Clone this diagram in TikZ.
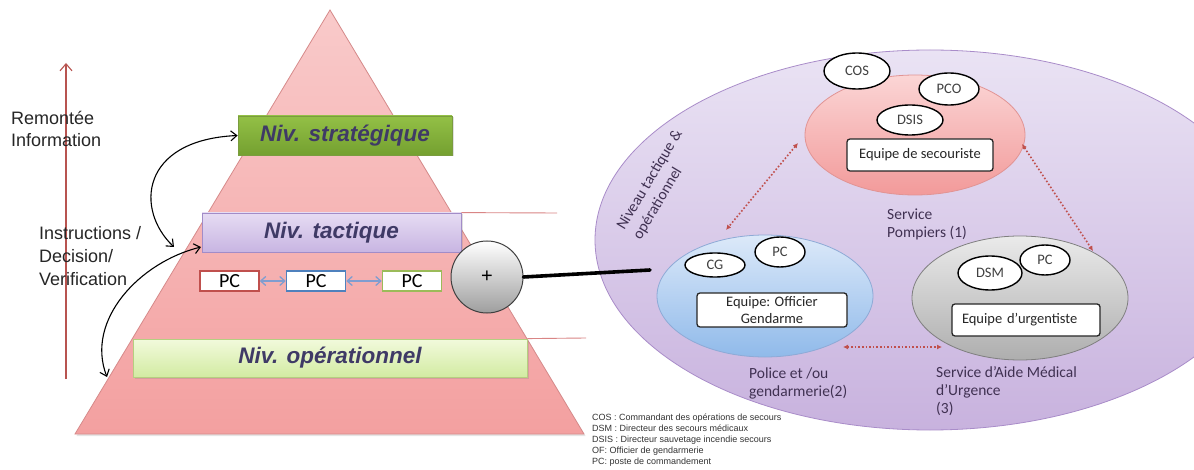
\documentclass[tikz,border=0pt]{standalone}
\usepackage{fontspec}
\setmainfont{Liberation Sans}
\newfontfamily\calfont{Carlito}
\usetikzlibrary{shapes.geometric,arrows.meta,shadows}
\definecolor{pyrtop}{HTML}{F9CACA}
\definecolor{pyrbot}{HTML}{F3A0A0}
\definecolor{pyredge}{HTML}{D68A8A}
\definecolor{strtop}{HTML}{93C046}
\definecolor{strbot}{HTML}{74A030}
\definecolor{stredge}{HTML}{7A9C3E}
\definecolor{tactop}{HTML}{E6DCF3}
\definecolor{tacbot}{HTML}{C8B5E2}
\definecolor{tacedge}{HTML}{A28CC8}
\definecolor{optop}{HTML}{F2FADC}
\definecolor{opbot}{HTML}{D2EBA2}
\definecolor{opedge}{HTML}{B5CF80}
\definecolor{lvltext}{HTML}{3F3A66}
\definecolor{pcred}{HTML}{C0504D}
\definecolor{pcblue}{HTML}{4F81BD}
\definecolor{pcgreen}{HTML}{9BBB59}
\definecolor{pcarrow}{HTML}{7F9DD0}
\definecolor{bigtop}{HTML}{EAE3F4}
\definecolor{bigbot}{HTML}{C8B2DE}
\definecolor{bigedge}{HTML}{A98CC9}
\definecolor{pinktop}{HTML}{FBD5D5}
\definecolor{pinkbot}{HTML}{F29A9A}
\definecolor{pinkedge}{HTML}{E19494}
\definecolor{bluetop}{HTML}{DCE9F9}
\definecolor{bluebot}{HTML}{90BAEA}
\definecolor{blueedge}{HTML}{8EAAD6}
\definecolor{graytop}{HTML}{EAEAEA}
\definecolor{graybot}{HTML}{AEAEAE}
\definecolor{grayedge}{HTML}{7F7F7F}
\definecolor{dotred}{HTML}{C0504D}
\definecolor{rtext}{HTML}{403152}
\definecolor{legtext}{HTML}{333333}
\definecolor{vred}{HTML}{B85450}
\definecolor{hred}{HTML}{D98585}
\begin{document}
\begin{tikzpicture}[x=1pt,y=-1pt,
  lvl/.style={draw, line width=0.8pt, inner sep=0pt,
    font=\fontsize{22.5}{26}\selectfont\bfseries\itshape, text=lvltext,
    drop shadow={opacity=0.25, shadow xshift=1.5pt, shadow yshift=-1.5pt}},
  pcbox/.style={draw, line width=1.6pt, fill=white, inner sep=0pt,
    minimum width=59, minimum height=20,
    font=\calfont\fontsize{20}{20}\selectfont},
  pcarr/.style={{Straight Barb[length=5pt,width=9pt]}-{Straight Barb[length=5pt,width=9pt]}, pcarrow, line width=1.3pt},
  curvearrow/.style={{Straight Barb[length=6pt,width=10pt]}-{Straight Barb[length=6pt,width=10pt]}, black, line width=1.1pt},
  service/.style={ellipse, inner sep=0pt, line width=0.8pt},
  ell/.style={ellipse, draw=black, line width=1.4pt, fill=white, inner sep=0pt,
    font=\calfont\fontsize{14.5}{16}\selectfont, text=black!75},
  inbox/.style={draw=black!85, line width=1.3pt, fill=white, rounded corners=3pt,
    inner sep=0pt, font=\calfont\fontsize{14.5}{17}\selectfont, text=black!85},
  rlabel/.style={anchor=west, align=left, inner sep=0pt,
    font=\calfont\fontsize{15.5}{18}\selectfont, text=rtext},
  dotarr/.style={{Latex[length=5pt,width=5pt]}-{Latex[length=5pt,width=5pt]}, dotred, line width=1.6pt, dotted},
  ltext/.style={anchor=west, align=left, inner sep=0pt, text=black!85}
]
\useasboundingbox (0,0) rectangle (1194,470);
\fill[white] (0,0) rectangle (1194,470);

% ---------- pyramid ----------
\coordinate (apex) at (330,10);
\coordinate (bl) at (75,434);
\coordinate (br) at (584,434);
\shadedraw[top color=pyrtop, bottom color=pyrbot, draw=pyredge, line width=0.8pt,
  drop shadow={opacity=0.2, shadow xshift=1.5pt, shadow yshift=-2pt}]
  (apex) -- (br) -- (bl) -- cycle;

% red vertical arrow
\coordinate (rb) at (66,379);
\coordinate (rt) at (66,63);
\draw[-{Straight Barb[length=7pt,width=12pt]}, vred, line width=1.1pt] (rb) -- (rt);

% left texts
\node[ltext, font=\fontsize{18}{22}\selectfont] (remont) at (11,129) {Remontée\\Information};
\node[ltext, font=\fontsize{18}{23}\selectfont] (instr) at (39,256) {Instructions /\\Decision/\\Verification};

% level boxes
\node[lvl, top color=strtop, bottom color=strbot, draw=stredge,
  minimum width=214, minimum height=39] (strat) at (345,135.5) {Niv. stratégique};
\node[lvl, top color=tactop, bottom color=tacbot, draw=tacedge,
  minimum width=259, minimum height=39] (tact) at (331.5,232.5) {Niv. tactique};
\node[lvl, top color=optop, bottom color=opbot, draw=opedge,
  minimum width=394, minimum height=38] (op) at (330,358) {Niv. opérationnel};

% thin red lines
\coordinate (l1) at (557,213);
\coordinate (l2) at (586,338);
\draw[hred, line width=0.9pt] (tact.north east) -- (l1);
\draw[hred, line width=0.9pt] (op.north east) -- (l2);

% PC boxes
\node[pcbox, draw=pcred] (pc1) at (229.5,281) {PC};
\node[pcbox, draw=pcblue] (pc2) at (316,281) {PC};
\node[pcbox, draw=pcgreen] (pc3) at (412,281) {PC};
\draw[pcarr] (pc1.east) -- (pc2.west);
\draw[pcarr] (pc2.east) -- (pc3.west);

% curved arrows
\coordinate (c1a) at (174,247);
\coordinate (c2a) at (201,247);
\coordinate (c2b) at (107,377);
\draw[curvearrow] (c1a) .. controls (135,210) and (140,140) .. (strat.west);
\draw[curvearrow] (c2a) .. controls (140,262) and (85,320) .. (c2b);

% ---------- right part ----------
\node[service, top color=bigtop, bottom color=bigbot, draw=bigedge,
  minimum width=670, minimum height=380] (big) at (930,240) {};

% plus circle and link
\node[circle, draw=black!75, line width=1pt, minimum size=72, inner sep=0pt,
  top color=white, bottom color=black!38, font=\fontsize{20}{20}\selectfont]
  (plus) at (487,277) {+};
\coordinate (linkend) at (650,270);
\draw[line width=3.6pt, line cap=round] (plus.east) -- (linkend);

% rotated label
\node[align=left, rotate=59, inner sep=0pt, font=\calfont\fontsize{15.5}{19}\selectfont,
  text=rtext] (nivtext) at (658,185) {Niveau tactique \&\\opérationnel};

% pompiers
\node[service, top color=pinktop, bottom color=pinkbot, draw=pinkedge,
  minimum width=220, minimum height=120] (pomp) at (915,135) {};
\node[ell, minimum width=66, minimum height=36] (cos) at (857,71) {COS};
\node[ell, minimum width=60, minimum height=32] (pco) at (949,89) {PCO};
\node[ell, minimum width=66, minimum height=30] (dsis) at (910,120) {DSIS};
\node[inbox, minimum width=146, minimum height=32] (secour) at (920,155) {Equipe de secouriste};
\node[rlabel] (pomptext) at (887,224) {Service\\Pompiers (1)};

% police
\node[service, top color=bluetop, bottom color=bluebot, draw=blueedge,
  minimum width=216, minimum height=122] (police) at (765,296) {};
\node[ell, minimum width=60, minimum height=24] (cg) at (715,265) {CG};
\node[ell, minimum width=50, minimum height=30] (pcb) at (780,252) {PC};
\node[inbox, minimum width=150, minimum height=34, align=center,
  font=\calfont\fontsize{14.5}{17}\selectfont] (offg) at (772,310) {Equipe: Officier\\Gendarme};
\node[rlabel] (poltext) at (749,383) {Police et /ou\\gendarmerie(2)};

% samu
\node[service, top color=graytop, bottom color=graybot, draw=grayedge,
  minimum width=216, minimum height=124] (samu) at (1020,298) {};
\node[ell, minimum width=64, minimum height=34] (dsm) at (990,273) {DSM};
\node[ell, minimum width=50, minimum height=30] (pcg) at (1045,260) {PC};
\node[inbox, minimum width=148, minimum height=32, inner xsep=10pt, align=left,
  text width=128] (urg) at (1026,320) {Equipe d’urgentiste};
\node[rlabel] (samutext) at (936,391) {Service d’Aide Médical\\d’Urgence\\(3)};

% dotted arrows
\coordinate (da1) at (798,143);
\coordinate (da2) at (726,230);
\coordinate (db1) at (1022,144);
\coordinate (db2) at (1093,251);
\coordinate (dc1) at (843,347);
\coordinate (dc2) at (942,347);
\draw[dotarr] (da1) -- (da2);
\draw[dotarr] (db1) -- (db2);
\draw[dotarr] (dc1) -- (dc2);

% legend
\node[anchor=north west, align=left, inner sep=0pt, text=legtext,
  font=\fontsize{9}{11}\selectfont] (legend) at (592,414)
  {COS : Commandant des opérations de secours\\
   DSM : Directeur des secours médicaux\\
   DSIS : Directeur sauvetage incendie secours\\
   OF: Officier de gendarmerie\\
   PC: poste de commandement};
\end{tikzpicture}
\end{document}
